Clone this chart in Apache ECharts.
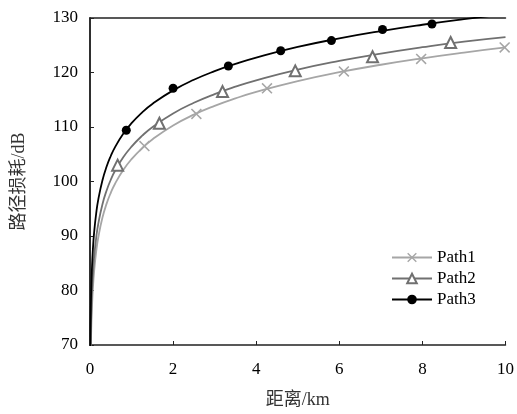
<!DOCTYPE html>
<html><head><meta charset="utf-8">
<script src="https://cdn.jsdelivr.net/npm/echarts@6/dist/echarts.min.js"></script>
<style>html,body{margin:0;padding:0;background:#fff}#c{width:517px;height:414px}</style>
</head><body><div id="c"></div>
<script>
// Fitted curve sample points (distance km)
const curveDist = [0.005,0.01,0.02,0.03,0.05,0.07,0.1,0.15,0.2,0.3,0.4,0.5,0.6,0.8,1,1.25,1.5,2,2.5,3,3.5,4,5,6,7,8,9,10];
const curve1 = [56.9,63.1,69.27,72.88,77.43,80.42,83.6,87.21,89.77,93.38,95.94,97.93,99.55,102.11,104.1,106.09,107.71,110.27,112.26,113.88,115.25,116.44,118.43,120.05,121.42,122.61,123.66,124.6];
const curve2 = [59.9,66.0,72.08,75.64,80.12,83.07,86.2,89.76,92.28,95.84,98.36,100.32,101.92,104.44,106.4,108.36,109.96,112.48,114.44,116.04,117.39,118.56,120.52,122.12,123.47,124.64,125.67,126.5];
const curve3 = [64.7,70.7,76.72,80.24,84.68,87.6,90.7,94.22,96.72,100.24,102.74,104.68,106.26,108.76,110.7,112.64,114.22,116.72,118.66,120.24,121.58,122.74,124.68,126.26,127.6,128.76,129.78,130.7];
// Marker points
const p1x = [1.31,2.56,4.26,6.11,7.97,9.98];
const p1y = [106.5,112.4,117.1,120.2,122.5,124.6];
const p2x = [0.665,1.67,3.19,4.94,6.80,8.68];
const p2y = [103.0,110.7,116.5,120.3,122.9,125.5];
const p3x = [0.873,2.0,3.33,4.59,5.81,7.04,8.23];
const p3y = [109.4,117.1,121.2,124.0,125.85,127.9,128.9];
const names = ['Path1','Path2','Path3'];
const xTicks = [0,2,4,6,8,10];
const yTicks = [70,80,90,100,110,120,130];

const zip = (a,b)=>a.map((v,i)=>[v,b[i]]);
const crossPath = 'path://M0,1L1,0L5,4L9,0L10,1L6,5L10,9L9,10L5,6L1,10L0,9L4,5Z';
const colors = ['#a6a6a6','#707070','#000000'];
const symbols = [crossPath,'emptyTriangle','circle'];
const sizes = [11,11,9];
const curves = [curve1,curve2,curve3];
const pts = [zip(p1x,p1y),zip(p2x,p2y),zip(p3x,p3y)];
const serif = 'Liberation Serif';
const cjk = 'Liberation Serif, Noto Sans CJK SC';

const series = [];
for (let i=0;i<3;i++){
  series.push({
    name: names[i], type:'line', data: zip(curveDist,curves[i]), smooth:true,
    showSymbol:false, symbol:symbols[i], symbolSize:sizes[i],
    lineStyle:{color:colors[i],width:1.8}, itemStyle:{color:colors[i], borderWidth:1.5},
    clip:true, z:2
  });
}
for (let i=0;i<3;i++){
  series.push({
    name: names[i], type:'scatter', data: pts[i], symbol:symbols[i], symbolSize:sizes[i],
    itemStyle:{color:colors[i], borderWidth:1.5, opacity:1}, z:3
  });
}

const chart = echarts.init(document.getElementById('c'));
chart.setOption({
  animation:false,
  backgroundColor:'#fff',
  grid:{left:90,right:11,top:18,bottom:68},
  legend:{
    data:names, orient:'vertical', left:386, top:244, itemWidth:40, itemHeight:12, itemGap:4,
    textStyle:{fontFamily:serif,fontSize:17,color:'#000'}
  },
  xAxis:[{
    type:'value', min:0, max:10, interval:2,
    name:'距离/km', nameLocation:'middle', nameGap:46,
    nameTextStyle:{fontFamily:cjk,fontSize:18,color:'#333'},
    axisLine:{lineStyle:{color:'#222',width:1.5}},
    axisTick:{inside:true,length:4,lineStyle:{color:'#222'}},
    axisLabel:{fontFamily:serif,fontSize:17,color:'#000',margin:16,
      formatter:v=>xTicks.includes(v)?String(v):''},
    splitLine:{show:false}
  },{
    type:'value', min:0, max:10, position:'top',
    axisLine:{show:true,lineStyle:{color:'#222',width:1.5}}, axisTick:{show:false}, axisLabel:{show:false}, splitLine:{show:false}
  }],
  yAxis:[{
    type:'value', min:70, max:130, interval:10,
    name:'路径损耗/dB', nameLocation:'middle', nameGap:62,
    nameTextStyle:{fontFamily:cjk,fontSize:18,color:'#333'},
    axisLine:{show:true,lineStyle:{color:'#222',width:1.5}},
    axisTick:{show:true,inside:true,length:4,lineStyle:{color:'#222'}},
    axisLabel:{fontFamily:serif,fontSize:17,color:'#000',margin:12,
      formatter:v=>yTicks.includes(v)?String(v):''},
    splitLine:{show:false}
  },{
    type:'value', min:70, max:130, position:'right',
    axisLine:{show:true,lineStyle:{color:'#222',width:1.5}}, axisTick:{show:false}, axisLabel:{show:false}, splitLine:{show:false}
  }],
  series: series
});
</script></body></html>
